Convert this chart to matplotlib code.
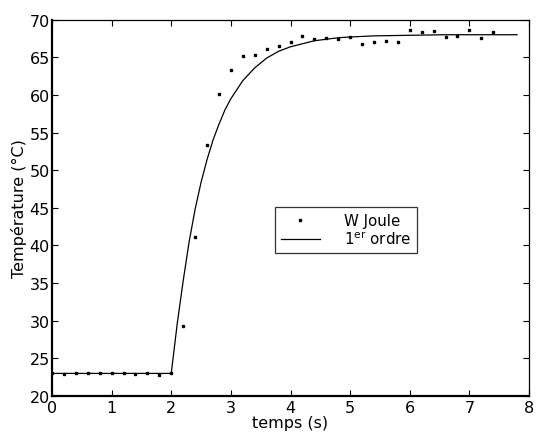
import matplotlib
matplotlib.use("Agg")
import matplotlib.pyplot as plt

# measured points (W Joule)
t_mes = [0.0, 0.2, 0.4, 0.6, 0.8, 1.0, 1.2, 1.4, 1.6, 1.8, 2.0, 2.2, 2.4, 2.6, 2.8,
         3.0, 3.2, 3.4, 3.6, 3.8, 4.0, 4.2, 4.4, 4.6, 4.8, 5.0, 5.2, 5.4, 5.6, 5.8,
         6.0, 6.2, 6.4, 6.6, 6.8, 7.0, 7.2, 7.4]
T_mes = [23.0, 22.9, 23.0, 23.0, 23.0, 23.0, 23.0, 22.9, 23.0, 22.8, 23.0, 29.3, 41.1, 53.4, 60.1,
         63.3, 65.2, 65.3, 66.1, 66.5, 67.0, 67.8, 67.4, 67.6, 67.4, 67.7, 66.8, 67.1, 67.2, 67.0,
         68.6, 68.4, 68.5, 67.7, 67.8, 68.6, 67.6, 68.4]

# first order model curve
t_mod = [0.0, 2.0, 2.1, 2.2, 2.3, 2.4, 2.5, 2.6, 2.7, 2.8, 2.9, 3.0, 3.2, 3.4, 3.6,
         3.8, 4.0, 4.2, 4.4, 4.6, 4.8, 5.0, 5.4, 5.8, 6.2, 6.6, 7.0, 7.4, 7.8]
T_mod = [23.0, 23.0, 29.6, 35.3, 40.5, 44.8, 48.4, 51.4, 54.0, 56.1, 58.0, 59.5, 61.9, 63.6, 64.9,
         65.8, 66.4, 66.8, 67.2, 67.4, 67.6, 67.7, 67.85, 67.9, 67.95, 68.0, 68.0, 68.0, 68.0]

x_ticks = [0, 1, 2, 3, 4, 5, 6, 7, 8]
y_ticks = [20, 25, 30, 35, 40, 45, 50, 55, 60, 65, 70]

plt.rcParams['font.family'] = ['DejaVu Sans']
plt.rcParams['mathtext.default'] = 'regular'

fig = plt.figure(figsize=(5.36, 4.39), dpi=100)
ax = fig.add_axes([0.097, 0.0957, 0.89, 0.8572])

ax.plot(t_mes, T_mes, linestyle='none', marker='s', markersize=1.8,
        color='black', label='W Joule')
ax.plot(t_mod, T_mod, color='black', linewidth=0.9, label=r'1$^{er}$ ordre')

ax.set_xlim(0, 8)
ax.set_ylim(20, 70)
ax.set_xticks(x_ticks)
ax.set_yticks(y_ticks)
ax.tick_params(direction='in', top=True, right=True, length=4, width=0.8,
               labelsize=11.5)
ax.tick_params(axis='y', pad=1.5)
ax.tick_params(axis='x', pad=3)
for s in ['left', 'bottom']:
    ax.spines[s].set_linewidth(1.6)
for s in ['top', 'right']:
    ax.spines[s].set_linewidth(0.9)

ax.set_xlabel('temps (s)', fontsize=11.5, labelpad=0)
ax.set_ylabel('Température (°C)', fontsize=11.5, labelpad=2)

leg = ax.legend(loc='center', bbox_to_anchor=(0.616, 0.441), fontsize=10.8,
                frameon=True, fancybox=False, edgecolor='black',
                handlelength=2.6, handletextpad=1.6, borderpad=0.4,
                labelspacing=0.1, markerscale=1.0)
leg.get_frame().set_linewidth(0.9)

fig.savefig('out.png', dpi=100)
